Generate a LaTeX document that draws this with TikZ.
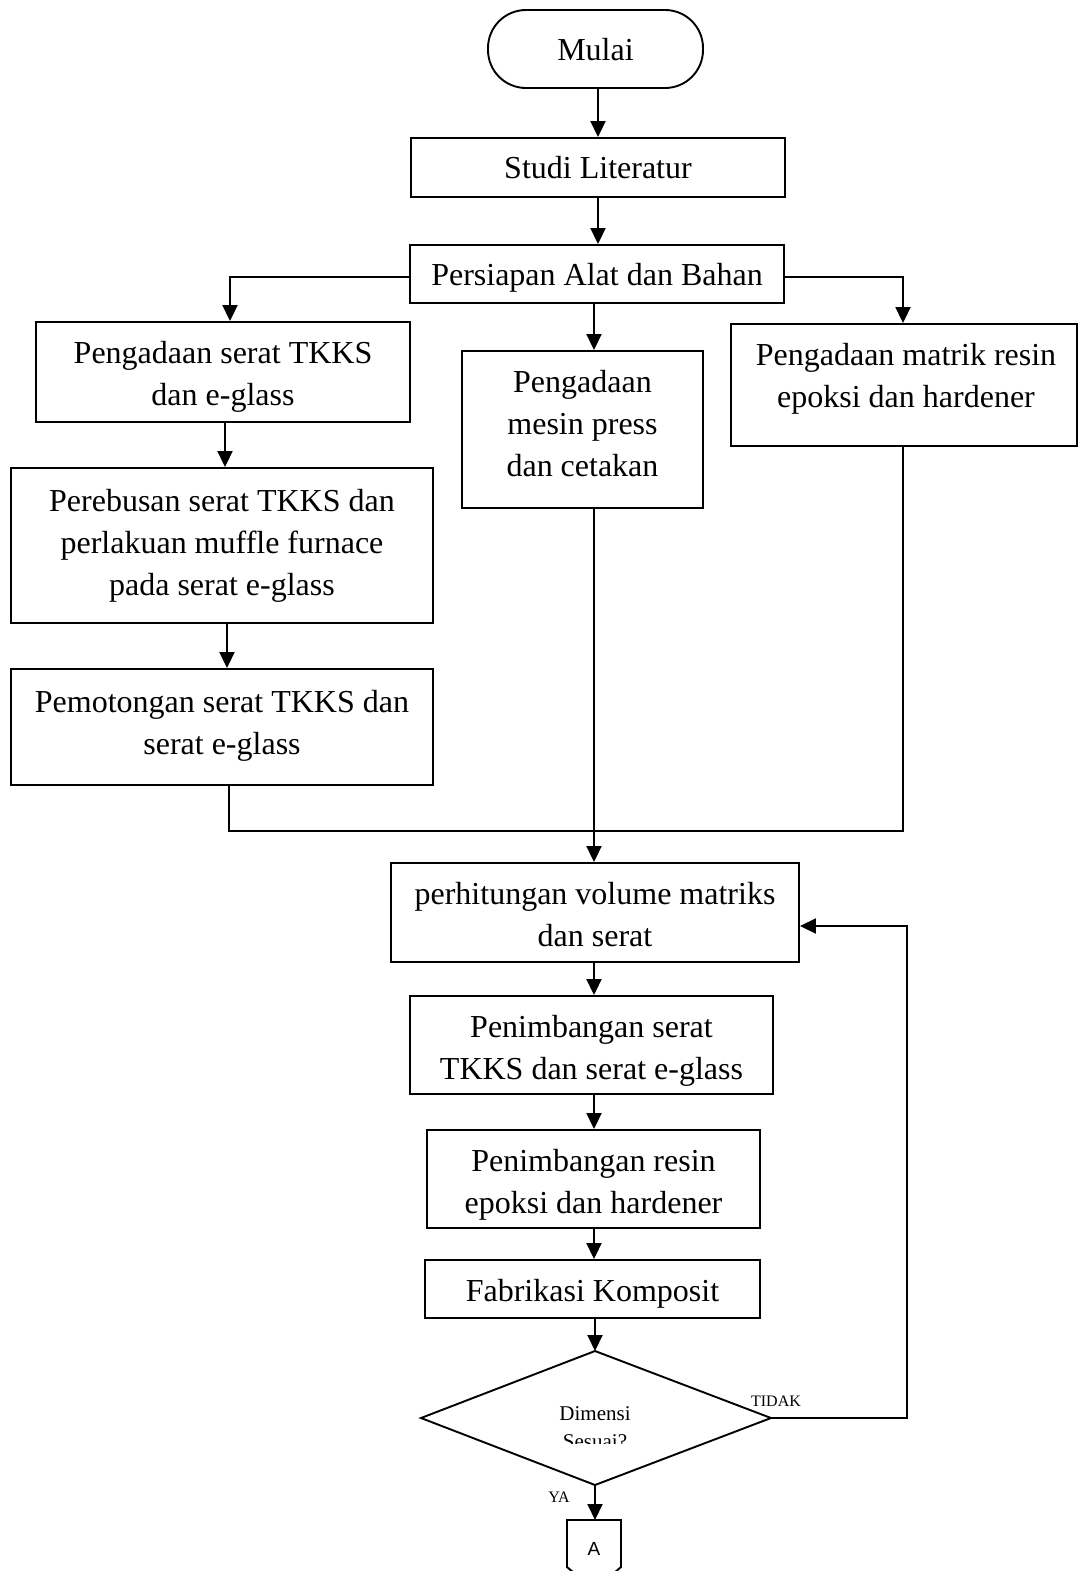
\documentclass[tikz,border=0pt]{standalone}
\usepackage{fontspec}
\setmainfont{Liberation Serif}
\newfontfamily\arialfont{Liberation Sans}
\usetikzlibrary{arrows.meta}
\begin{document}
\begin{tikzpicture}[x=1pt,y=-1pt, line width=1.9pt,
  boxn/.style={draw, line width=1.9pt, inner sep=0pt},
  txt/.style={inner sep=0pt, align=center, font=\fontsize{32}{42}\selectfont},
  arr/.style={-{Triangle[length=16pt,width=15pt]}, line width=1.9pt},
  small/.style={inner sep=0pt, font=\fontsize{16}{18}\selectfont}]
\useasboundingbox (0,0) rectangle (1079,1571);
\clip (0,0) rectangle (1079,1571);
\fill[white] (0,0) rectangle (1079,1571);
\coordinate (ax) at (594,0);
\coordinate (bx) at (598,0);
% boxes
\node[boxn, minimum width=215pt, minimum height=78pt, rounded corners=38pt] (mulai) at (595.5,49) {};
\node[boxn, minimum width=374pt, minimum height=59pt] (studi) at (598,167.5) {};
\node[boxn, minimum width=374pt, minimum height=58pt] (pers) at (597,274) {};
\node[boxn, minimum width=374pt, minimum height=100pt] (l1) at (223,372) {};
\node[boxn, minimum width=422pt, minimum height=155pt] (l2) at (222,545.5) {};
\node[boxn, minimum width=422pt, minimum height=116pt] (l3) at (222,727) {};
\node[boxn, minimum width=241pt, minimum height=157pt] (m) at (582.5,429.5) {};
\node[boxn, minimum width=346pt, minimum height=122pt] (r) at (904,385) {};
\node[boxn, minimum width=408pt, minimum height=99pt] (pv) at (595,912.5) {};
\node[boxn, minimum width=363pt, minimum height=98pt] (q) at (591.5,1045) {};
\node[boxn, minimum width=333pt, minimum height=98pt] (rr) at (593.5,1179) {};
\node[boxn, minimum width=335pt, minimum height=58pt] (f) at (592.5,1289) {};
% texts
\node[txt] (mulait) at (595.5,50) {Mulai};
\node[txt] (studit) at (598,167.5) {Studi Literatur};
\node[txt] (perst) at (597,278) {Persiapan Alat dan Bahan};
\node[txt] (l1t) at (223,377) {Pengadaan serat TKKS\\dan e-glass};
\node[txt] (l2t) at (222,545.5) {Perebusan serat TKKS dan\\perlakuan muffle furnace\\pada serat e-glass};
\node[txt] (l3t) at (222,726) {Pemotongan serat TKKS dan\\serat e-glass};
\node[txt] (mt) at (582.5,424) {Pengadaan\\mesin press\\dan cetakan};
\node[txt] (rt) at (906,379) {Pengadaan matrik resin\\epoksi dan hardener};
\node[txt] (pvt) at (595,914.5) {perhitungan volume matriks\\dan serat};
\node[txt] (qt) at (591.5,1051) {Penimbangan serat\\TKKS dan serat e-glass};
\node[txt] (rrt) at (593.5,1185) {Penimbangan resin\\epoksi dan hardener};
\node[txt] (ft) at (592.5,1294) {Fabrikasi Komposit};
% diamond
\coordinate (dT) at (595,1351);
\coordinate (dL) at (421,1418);
\coordinate (dR) at (771,1418);
\coordinate (dB) at (595,1485);
\draw[line join=miter] (dT) -- (dR) -- (dB) -- (dL) -- cycle;
\begin{scope}
\clip (430,1380) rectangle (760,1443);
\node[inner sep=0pt, align=center, font=\fontsize{21}{28}\selectfont] (dtext) at (595,1428) {Dimensi\\Sesuai?};
\end{scope}
\node[small] (tidak) at (776,1401) {TIDAK};
\node[small] (ya) at (559,1497) {YA};
% off-page connector
\coordinate (aTL) at (567,1520);
\coordinate (aTR) at (621,1520);
\draw[line join=miter] (aTL) -- (aTR) -- (621,1567) -- (594,1590) -- (567,1567) -- cycle;
\node[inner sep=0pt, font=\arialfont\fontsize{19}{20}\selectfont] (atext) at (594,1549) {A};
% connectors
\draw[arr] (mulai.south -| bx) -- (studi.north -| bx);
\draw[arr] (studi.south -| bx) -- (pers.north -| bx);
\coordinate (lx) at (230,277);
\coordinate (rx) at (903,277);
\draw[arr] (pers.west |- lx) -- (lx) -- (l1.north -| lx);
\draw[arr] (pers.east |- rx) -- (rx) -- (r.north -| rx);
\draw[arr] (pers.south -| ax) -- (m.north -| ax);
\coordinate (l1x) at (225,0);
\coordinate (l2x) at (227,0);
\draw[arr] (l1.south -| l1x) -- (l2.north -| l1x);
\draw[arr] (l2.south -| l2x) -- (l3.north -| l2x);
\coordinate (mL) at (229,831);
\coordinate (mR) at (903,831);
\draw (l3.south -| mL) -- (mL) -- (mR) -- (r.south -| mR);
\draw[arr] (m.south -| ax) -- (pv.north -| ax);
\draw[arr] (pv.south -| ax) -- (q.north -| ax);
\draw[arr] (q.south -| ax) -- (rr.north -| ax);
\draw[arr] (rr.south -| ax) -- (f.north -| ax);
\draw[arr] (f.south -| dT) -- (dT);
\draw[arr] (dB) -- (aTL -| dB);
\coordinate (fb1) at (907,1418);
\coordinate (fb2) at (907,926);
\draw[arr] (dR) -- (fb1) -- (fb2) -- (pv.east |- fb2);
\end{tikzpicture}
\end{document}
